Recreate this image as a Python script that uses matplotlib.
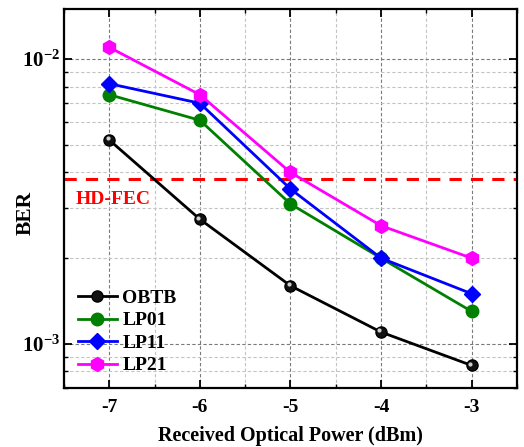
import numpy as np
import matplotlib
matplotlib.use("Agg")
import matplotlib.pyplot as plt
from matplotlib.ticker import LogLocator, MultipleLocator, NullFormatter
import matplotlib.transforms as mtransforms

plt.rcParams['font.family'] = ['Liberation Serif', 'DejaVu Serif']
plt.rcParams['font.weight'] = 'bold'
plt.rcParams['mathtext.fontset'] = 'custom'
plt.rcParams['mathtext.rm'] = 'Liberation Serif:bold'
plt.rcParams['mathtext.bf'] = 'Liberation Serif:bold'
plt.rcParams['mathtext.it'] = 'Liberation Serif:bold:italic'

power = [-7, -6, -5, -4, -3]
obtb = [5.2e-3, 2.74e-3, 1.60e-3, 1.10e-3, 8.4e-4]
lp01 = [7.5e-3, 6.1e-3, 3.1e-3, 2.0e-3, 1.3e-3]
lp11 = [8.2e-3, 7.0e-3, 3.5e-3, 2.0e-3, 1.5e-3]
lp21 = [1.1e-2, 7.5e-3, 4.0e-3, 2.6e-3, 2.0e-3]
hd_fec = 3.8e-3
series_names = ['OBTB', 'LP01', 'LP11', 'LP21']

fig = plt.figure(figsize=(5.24, 4.47), dpi=100)
ax = fig.add_axes([64/524, 1-388/447, (517-64)/524, (388-9)/447])
ax.set_yscale('log')
ax.set_xlim(-7.5, -2.5)
ax.set_ylim(7e-4, 1.5e-2)

# grid
ax.xaxis.set_major_locator(MultipleLocator(1))
ax.xaxis.set_minor_locator(MultipleLocator(0.5))
ax.yaxis.set_major_locator(LogLocator(base=10, numticks=10))
ax.yaxis.set_minor_locator(LogLocator(base=10, subs=np.arange(2, 10), numticks=10))
ax.yaxis.set_minor_formatter(NullFormatter())
ax.grid(True, which='major', linestyle=(0, (3, 2)), color='#7a7a7a', linewidth=0.8)
ax.grid(True, which='minor', linestyle=(0, (3, 2)), color='#c4c4c4', linewidth=0.8)
ax.set_axisbelow(True)

ax.axhline(hd_fec, color='#ff0000', linestyle=(0, (4, 3)), linewidth=2.2, zorder=2)
ax.text(-7.37, 3.22e-3, 'HD-FEC', color='#ff0000', fontsize=14, fontweight='bold',
        va='center', ha='left')

lw = 2.0
ax.plot(power, obtb, color='black', marker='o', markersize=8, linewidth=lw,
        markerfacecolor='#111111', markeredgecolor='black', label=series_names[0], zorder=4)
hl = mtransforms.offset_copy(ax.transData, fig=fig, x=-1.2, y=1.2, units='points')
ax.plot(power, obtb, linestyle='none', marker='o', markersize=3, color='#cfcfcf',
        markeredgewidth=0, transform=hl, zorder=5)
ax.plot(power, lp01, color='#008000', marker='o', markersize=9, linewidth=lw,
        label=series_names[1], zorder=3)
ax.plot(power, lp11, color='#0000ff', marker='D', markersize=8, linewidth=lw,
        label=series_names[2], zorder=3)
ax.plot(power, lp21, color='#ff00ff', marker='h', markersize=10, linewidth=lw,
        label=series_names[3], zorder=3)

ax.legend(loc='lower left', frameon=False, handlelength=2.0,
          handletextpad=0.3, labelspacing=0.25, borderaxespad=0.3,
          prop={'weight': 'bold', 'size': 14})

ax.set_xticks(power)
ax.set_xticklabels([str(p) for p in power])
ax.set_yticks([1e-3, 1e-2])
ax.set_yticklabels([r'$10^{-3}$', r'$10^{-2}$'])
ax.tick_params(which='major', direction='in', length=6, width=1.3, labelsize=14,
               top=True, right=True)
ax.tick_params(axis='x', which='major', pad=8)
ax.tick_params(axis='y', which='major', pad=3, labelsize=15)
ax.tick_params(which='minor', direction='in', length=3, width=1.0, top=True, right=True)
for lab in ax.get_xticklabels() + ax.get_yticklabels():
    lab.set_fontweight('bold')
for s in ax.spines.values():
    s.set_linewidth(1.6)

ax.set_xlabel('Received Optical Power (dBm)', fontsize=14.5, fontweight='bold', labelpad=7)
ax.set_ylabel('BER', fontsize=15.5, fontweight='bold')
ax.yaxis.set_label_coords(-0.062, 0.463)

fig.savefig('out.png', dpi=100)
